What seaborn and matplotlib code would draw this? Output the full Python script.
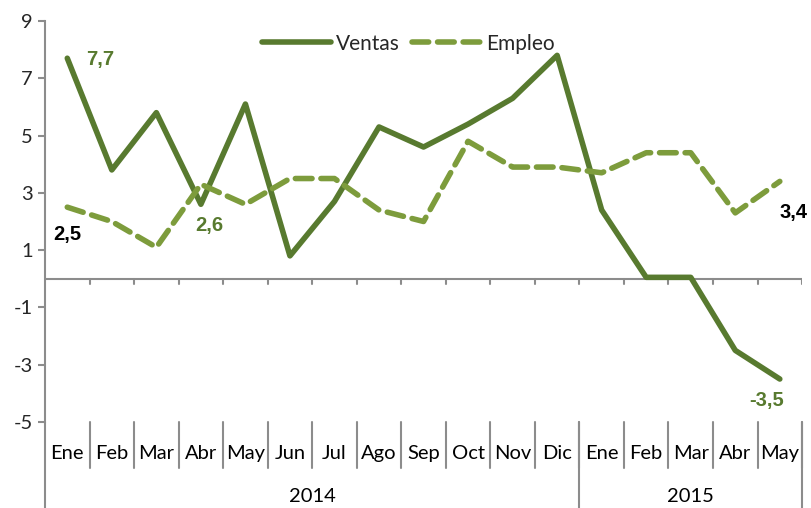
import matplotlib
matplotlib.use("Agg")
import matplotlib.pyplot as plt
import matplotlib.transforms as mtransforms
from matplotlib.font_manager import FontProperties
import pandas as pd
import seaborn as sns

months = ["Ene", "Feb", "Mar", "Abr", "May", "Jun", "Jul", "Ago", "Sep", "Oct", "Nov", "Dic",
          "Ene", "Feb", "Mar", "Abr", "May"]
years = ["2014", "2015"]
year_counts = [12, 5]
ventas = [7.7, 3.8, 5.8, 2.6, 6.1, 0.8, 2.7, 5.3, 4.6, 5.4, 6.3, 7.8, 2.4, 0.05, 0.05, -2.5, -3.5]
empleo = [2.5, 2.0, 1.1, 3.3, 2.6, 3.5, 3.5, 2.4, 2.0, 4.8, 3.9, 3.9, 3.7, 4.4, 4.4, 2.3, 3.4]

sns.set_theme(style="white")
plt.rcParams["font.family"] = ["Lato", "DejaVu Sans"]
plt.rcParams["axes.unicode_minus"] = False

dark = "#587a2f"
light = "#7d9c3c"
axis_gray = "#8c8c8c"
fs = 14.5
bold_fp = FontProperties(family="Liberation Sans", weight="bold", size=14.5)

df = pd.DataFrame({"idx": range(len(months)), "Ventas": ventas, "Empleo": empleo})
long = df.melt(id_vars="idx", var_name="serie", value_name="valor")

fig = plt.figure(figsize=(8.11, 5.08), dpi=100)
ax = fig.add_axes([0.0555, 0.1693, 0.9335, 0.7894])

sns.lineplot(data=long, x="idx", y="valor", hue="serie", style="serie",
             palette={"Ventas": dark, "Empleo": light},
             dashes={"Ventas": "", "Empleo": (3, 1.6)},
             linewidth=4, ax=ax, legend=True)
for line in ax.lines:
    line.set_solid_capstyle("round")
    line.set_dash_capstyle("round")

n = len(months)
ax.set_xlim(-0.5, n - 0.5)
ax.set_ylim(-5, 9)
ax.set_yticks([-5, -3, -1, 1, 3, 5, 7, 9])
ax.set_xticks([])
ax.set_xlabel("")
ax.set_ylabel("")
ax.tick_params(axis="y", labelsize=fs, length=5, width=1.5, color=axis_gray, left=True, pad=4)

for s in ["top", "right", "bottom"]:
    ax.spines[s].set_visible(False)
ax.spines["left"].set_color(axis_gray)
ax.spines["left"].set_linewidth(1.5)

# zero line with tick marks between categories
ax.axhline(0, color=axis_gray, lw=1.5, zorder=1)
for k in range(n):
    ax.plot([k + 0.5, k + 0.5], [0, -0.18], color=axis_gray, lw=1.5, zorder=1)

# category table below the plot
trans = mtransforms.blended_transform_factory(ax.transData, ax.transAxes)
month_bot = -0.115
year_bot = -0.215
ax.plot([-0.5, -0.5], [0, year_bot], transform=trans, color=axis_gray, lw=1.5, clip_on=False)
for k in range(n):
    ax.text(k, -0.078, months[k], transform=trans, ha="center", va="center", fontsize=fs, color="black")
    x = k + 0.5
    ax.plot([x, x], [0, month_bot], transform=trans, color=axis_gray, lw=1.5, clip_on=False)
start = -0.5
for yr, c in zip(years, year_counts):
    end = start + c
    ax.plot([end, end], [0, year_bot], transform=trans, color=axis_gray, lw=1.5, clip_on=False)
    ax.text((start + end) / 2, -0.186, yr, transform=trans, ha="center", va="center", fontsize=fs, color="black")
    start = end

# data labels
lab = dict(ha="center", va="center", fontproperties=bold_fp)
ax.text(0.75, ventas[0] - 0.05, "7,7", color=dark, **lab)
ax.text(0, empleo[0] - 0.95, "2,5", color="black", **lab)
ax.text(3.2, ventas[3] - 0.75, "2,6", color=dark, **lab)
ax.text(16.3, empleo[16] - 1.1, "3,4", color="black", **lab)
ax.text(15.7, ventas[16] - 0.75, "-3,5", color=dark, **lab)

leg = ax.legend(loc="upper center", bbox_to_anchor=(0.48, 1.015), ncol=2, frameon=False,
                fontsize=15, handlelength=3.3, handletextpad=0.25, columnspacing=0.6)
for h in leg.get_lines():
    h.set_linewidth(4)

fig.savefig("out.png", dpi=100)
